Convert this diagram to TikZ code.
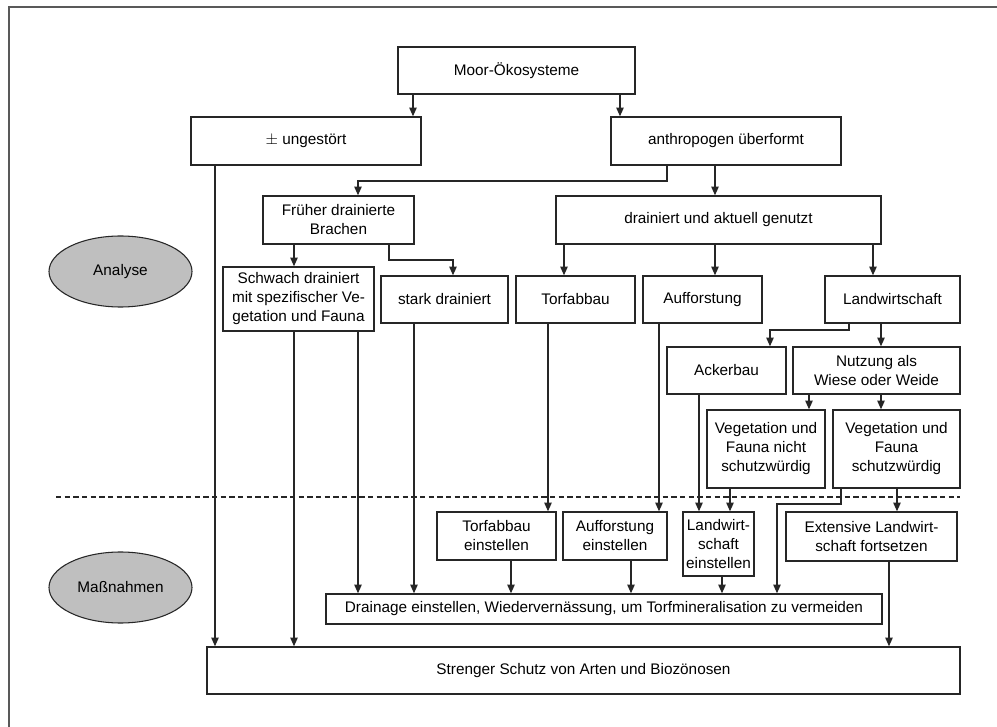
\documentclass[tikz,border=0pt]{standalone}
\usepackage{fontspec}
\setmainfont{Liberation Sans}
\usetikzlibrary{shapes.geometric, arrows.meta}

\begin{document}
\begin{tikzpicture}[x=0.75pt, y=-0.75pt,
  box/.style={draw=black!85, line width=1pt, inner sep=0pt, align=center,
    font=\fontsize{11.5}{14.25}\selectfont},
  phase/.style={ellipse, draw=black!85, fill=black!25, line width=0.8pt,
    minimum width=107.25pt, minimum height=53.25pt, inner sep=0pt,
    font=\fontsize{11.5}{14.25}\selectfont},
  link/.style={draw=black!85, line width=1pt, -{Triangle[length=6.5pt,width=5.5pt]}}]
\useasboundingbox (0,0) rectangle (997,727);
\draw[black!65, line width=1.4pt] (9,727) -- (9,7) -- (997,7);

\node[box, minimum width=177.75pt, minimum height=35.25pt](moor) at (516.5,70.5) {Moor-Ökosysteme};
\node[box, minimum width=172.5pt, minimum height=36pt](ungest) at (306,141) {$\pm$ ungestört};
\node[box, minimum width=172.5pt, minimum height=36pt](anthro) at (726,141) {anthropogen überformt};
\node[box, minimum width=113.25pt, minimum height=36pt](brachen) at (338.5,220) {Früher drainierte\\Brachen};
\node[box, minimum width=243.75pt, minimum height=36pt](drainiert) at (718.5,220) {drainiert und aktuell genutzt};
\node[box, minimum width=113.25pt, minimum height=48pt](schwach) at (298.5,299) {Schwach drainiert\\mit spezifischer Ve-\\getation und Fauna};
\node[box, minimum width=95.25pt, minimum height=35.25pt](stark) at (444.5,299.5) {stark drainiert};
\node[box, minimum width=89.25pt, minimum height=35.25pt](torf) at (575.5,299.5) {Torfabbau};
\node[box, minimum width=89.25pt, minimum height=35.25pt](auff) at (702.5,299.5) {Aufforstung};
\node[box, minimum width=101.25pt, minimum height=35.25pt](landw) at (892.5,299.5) {Landwirtschaft};
\node[box, minimum width=89.25pt, minimum height=35.25pt](acker) at (726.5,370.5) {Ackerbau};
\node[box, minimum width=125.25pt, minimum height=35.25pt](nutzung) at (876.5,370.5) {Nutzung als\\Wiese oder Weide};
\node[box, minimum width=88.5pt, minimum height=58.5pt](vegn) at (766,449) {Vegetation und\\Fauna nicht\\schutzwürdig};
\node[box, minimum width=95.25pt, minimum height=58.5pt](vegs) at (896.5,449) {Vegetation und\\Fauna\\schutzwürdig};
\node[box, minimum width=89.25pt, minimum height=36pt](torfe) at (496.5,536) {Torfabbau\\einstellen};
\node[box, minimum width=78pt, minimum height=36pt](auffe) at (615,536) {Aufforstung\\einstellen};
\node[box, minimum width=53.25pt, minimum height=48pt](lwe) at (718.5,544) {Landwirt-\\schaft\\einstellen};
\node[box, minimum width=128.25pt, minimum height=36.75pt](ext) at (871.5,536.5) {Extensive Landwirt-\\schaft fortsetzen};
\node[box, minimum width=417pt, minimum height=22.5pt](drainage) at (604,609) {Drainage einstellen, Wiedervernässung, um Torfmineralisation zu vermeiden};
\node[box, minimum width=564.75pt, minimum height=35.25pt](streng) at (583.5,670.5) {Strenger Schutz von Arten und Biozönosen};

\node[phase](analyse) at (120.5,271.5) {Analyse};
\node[phase](massn) at (120.5,587.5) {Maßnahmen};

\draw[black!85, line width=1pt, dash pattern=on 4pt off 2.5pt] (56,497) -- (960,497);

% Analyse
\path[link] (moor.south -| 413,0) -- (ungest.north -| 413,0);
\path[link] (moor.south -| 620,0) -- (anthro.north -| 620,0);
\path[link] (anthro.south -| 667,0) |- (358,181) -- (brachen.north -| 358,0);
\path[link] (anthro.south -| 715,0) -- (drainiert.north -| 715,0);
\path[link] (brachen.south -| 294,0) -- (schwach.north -| 294,0);
\path[link] (brachen.south -| 389,0) |- (453,260) -- (stark.north -| 453,0);
\path[link] (drainiert.south -| 564,0) -- (torf.north -| 564,0);
\path[link] (drainiert.south -| 715,0) -- (auff.north -| 715,0);
\path[link] (drainiert.south -| 873,0) -- (landw.north -| 873,0);
\path[link] (landw.south -| 849,0) |- (770,330) -- (acker.north -| 770,0);
\path[link] (landw.south -| 881,0) -- (nutzung.north -| 881,0);
\path[link] (nutzung.south -| 809,0) -- (vegn.north -| 809,0);
\path[link] (nutzung.south -| 881,0) -- (vegs.north -| 881,0);

% Massnahmen
\path[link] (ungest.south -| 215,0) -- (streng.north -| 215,0);
\path[link] (schwach.south -| 294,0) -- (streng.north -| 294,0);
\path[link] (schwach.south -| 358,0) -- (drainage.north -| 358,0);
\path[link] (stark.south -| 414,0) -- (drainage.north -| 414,0);
\path[link] (torf.south -| 548,0) -- (torfe.north -| 548,0);
\path[link] (auff.south -| 659,0) -- (auffe.north -| 659,0);
\path[link] (acker.south -| 699,0) -- (lwe.north -| 699,0);
\path[link] (vegn.south -| 730,0) -- (lwe.north -| 730,0);
\path[link] (vegs.south -| 897,0) -- (ext.north -| 897,0);
\path[link] (vegs.south -| 841,0) |- (777,504) -- (drainage.north -| 777,0);
\path[link] (torfe.south -| 511,0) -- (drainage.north -| 511,0);
\path[link] (auffe.south -| 631,0) -- (drainage.north -| 631,0);
\path[link] (lwe.south -| 722,0) -- (drainage.north -| 722,0);
\path[link] (ext.south -| 889,0) -- (streng.north -| 889,0);
\end{tikzpicture}
\end{document}
